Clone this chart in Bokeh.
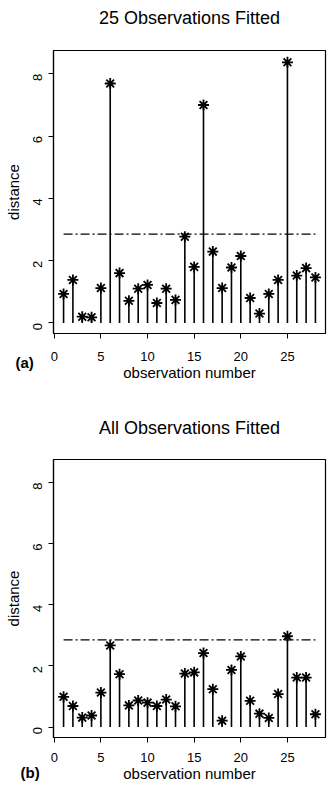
import math
from bokeh.plotting import figure
from bokeh.layouts import column
from bokeh.models import Range1d, FixedTicker, Title
from bokeh.embed import file_html
from bokeh.resources import INLINE

obs = list(range(1, 29))
dist_a = [0.93, 1.38, 0.20, 0.18, 1.12, 7.69, 1.60, 0.71, 1.10, 1.22,
          0.64, 1.10, 0.74, 2.77, 1.80, 7.00, 2.29, 1.12, 1.78, 2.15,
          0.80, 0.30, 0.93, 1.38, 8.37, 1.52, 1.76, 1.46]
dist_b = [0.99, 0.69, 0.31, 0.38, 1.13, 2.67, 1.73, 0.71, 0.87, 0.80,
          0.69, 0.90, 0.68, 1.75, 1.79, 2.42, 1.24, 0.21, 1.87, 2.31,
          0.86, 0.44, 0.30, 1.08, 2.97, 1.62, 1.62, 0.42]
cutoff = 2.85
x_ticks = [0, 5, 10, 15, 20, 25]
y_ticks = [0, 2, 4, 6, 8]
titles = ["25 Observations Fitted", "All Observations Fitted"]
tags = ["(a)", "(b)"]

FONT = "Liberation Sans"


def panel(vals, title, tag, width, height, b_left, b_right, b_top, b_bottom,
          spacer, tag_offset, tag_standoff, x_lab_stand):
    p = figure(width=width, height=height, output_backend="svg",
               toolbar_location=None, tools="",
               x_range=Range1d(-0.08, 29.08), y_range=Range1d(-0.34, 8.75),
               min_border_left=b_left, min_border_right=b_right,
               min_border_top=b_top, min_border_bottom=b_bottom)
    p.title.text = ""
    p.xgrid.visible = False
    p.ygrid.visible = False
    p.outline_line_color = "black"
    p.outline_line_width = 1.2
    p.background_fill_color = "white"
    p.border_fill_color = "white"

    p.segment(x0=obs, y0=[0] * len(obs), x1=obs, y1=vals,
              line_color="black", line_width=1.6)
    p.scatter(obs, vals, marker="asterisk", size=11, line_color="black",
              line_width=1.8)
    p.line([min(obs), max(obs)], [cutoff, cutoff], line_color="black",
           line_width=1.2, line_dash="9 3 2 3")

    for ax in (p.xaxis[0], p.yaxis[0]):
        ax.axis_line_color = "black"
        ax.axis_line_width = 1.2
        ax.major_tick_line_color = "black"
        ax.major_tick_in = 0
        ax.major_tick_out = 5
        ax.minor_tick_line_color = None
        ax.major_label_text_font = FONT
        ax.major_label_text_font_size = "13px"
        ax.major_label_text_color = "black"
        ax.axis_label_text_font = FONT
        ax.axis_label_text_font_size = "15px"
        ax.axis_label_text_font_style = "normal"
        ax.axis_label_text_color = "black"
    p.xaxis.ticker = FixedTicker(ticks=x_ticks)
    p.yaxis.ticker = FixedTicker(ticks=y_ticks)
    p.xaxis.axis_label = "observation number"
    p.yaxis.axis_label = "distance"
    p.yaxis.major_label_orientation = math.pi / 2
    p.xaxis.major_label_standoff = x_lab_stand
    p.yaxis.major_label_standoff = 11
    p.xaxis.axis_label_standoff = 0
    p.yaxis.axis_label_standoff = 4

    # spacer keeps the title away from the frame, then the title itself
    p.add_layout(Title(text=" ", text_font_size="1px", standoff=spacer), "above")
    p.add_layout(Title(text=title, align="center", standoff=0,
                       text_font=FONT, text_font_size="18px",
                       text_font_style="normal", text_color="black"), "above")
    # panel tag at the lower left
    p.add_layout(Title(text=tag, align="left", offset=tag_offset,
                       standoff=tag_standoff, vertical_align="top",
                       text_font=FONT, text_font_size="15px",
                       text_font_style="bold", text_color="black"), "below")
    return p


pa = panel(dist_a, titles[0], tags[0], 333, 395, 53, 1, 50, 62, 20, -38, -60, 13)
pb = panel(dist_b, titles[1], tags[1], 333, 390, 48, 8, 64, 48, 19, -33, -42, 10)

layout = column(pa, pb, spacing=0)
open("out.html", "w").write(file_html(layout, INLINE))
